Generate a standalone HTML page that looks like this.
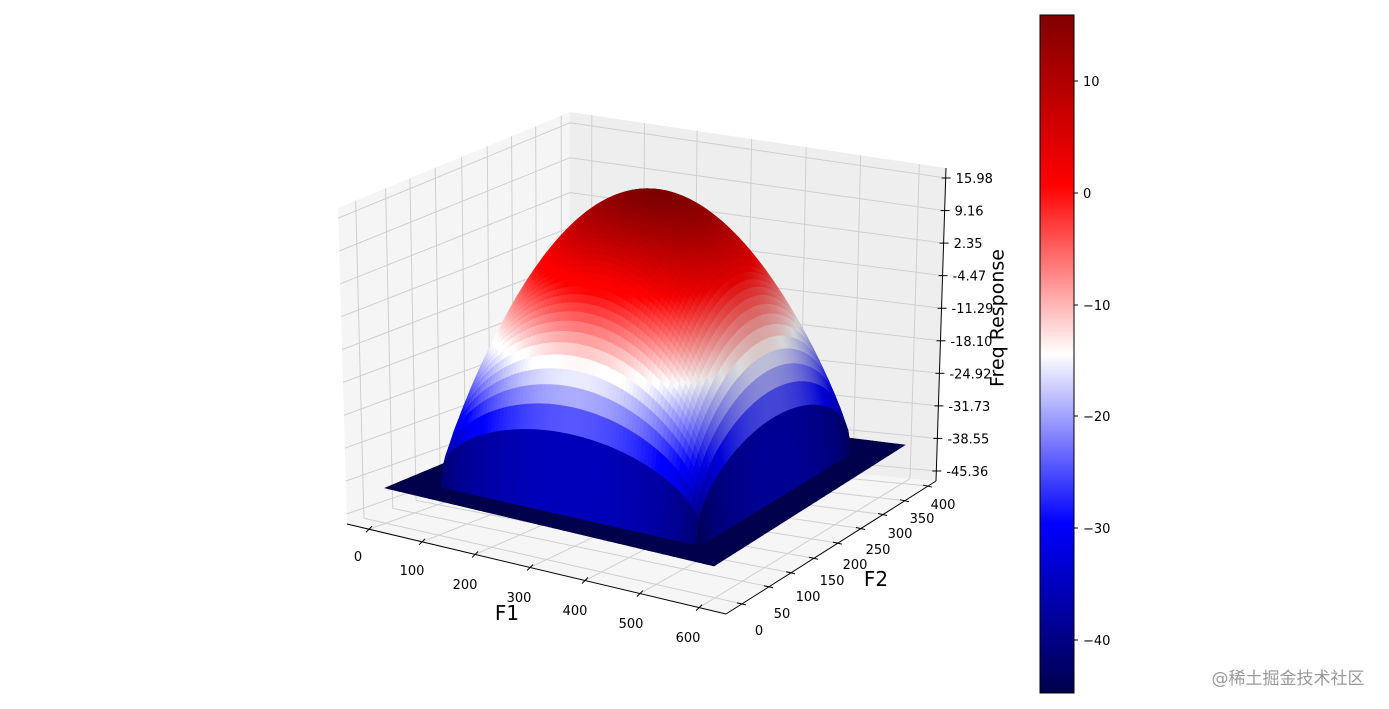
<!DOCTYPE html>
<html><head><meta charset="utf-8">
<style>
html,body{margin:0;padding:0;background:#fff;}
svg{display:block;font-family:"DejaVu Sans","Liberation Sans","Noto Sans CJK SC",sans-serif;}
</style></head>
<body>
<svg id="s" width="1389" height="709" viewBox="0 0 1389 709" xmlns="http://www.w3.org/2000/svg">
<defs>
<linearGradient id="cb" x1="0" y1="1" x2="0" y2="0">
<stop offset="0" stop-color="#00004d"/>
<stop offset="0.25" stop-color="#0000ff"/>
<stop offset="0.5" stop-color="#ffffff"/>
<stop offset="0.75" stop-color="#ff0000"/>
<stop offset="1" stop-color="#800000"/>
</linearGradient>
</defs>
<g id="panes"></g>
<g id="surf"></g>
<g id="axes"></g>
<rect x="1040" y="15" width="34" height="678" fill="url(#cb)" stroke="#000" stroke-width="1"/>
<g font-size="13" fill="#000">
<line x1="1074" y1="81" x2="1078" y2="81" stroke="#000"/><text x="1083" y="86">10</text>
<line x1="1074" y1="193" x2="1078" y2="193" stroke="#000"/><text x="1083" y="198">0</text>
<line x1="1074" y1="305" x2="1078" y2="305" stroke="#000"/><text x="1083" y="310">−10</text>
<line x1="1074" y1="416" x2="1078" y2="416" stroke="#000"/><text x="1083" y="421">−20</text>
<line x1="1074" y1="528" x2="1078" y2="528" stroke="#000"/><text x="1083" y="533">−30</text>
<line x1="1074" y1="640" x2="1078" y2="640" stroke="#000"/><text x="1083" y="645">−40</text>
</g>
<text x="998" y="318" font-size="19" text-anchor="middle" transform="rotate(-90 998 318)" dominant-baseline="middle">Freq Response</text>
<text x="507" y="620" font-size="20" text-anchor="middle">F1</text>
<text x="876" y="586" font-size="20" text-anchor="middle">F2</text>
<text x="1288" y="684" font-size="17" fill="#999" text-anchor="middle">@稀土掘金技术社区</text>
</svg>
<script>
var NS="http://www.w3.org/2000/svg";
function el(p,tag,a){var e=document.createElementNS(NS,tag);for(var k in a)e.setAttribute(k,a[k]);p.appendChild(e);return e;}
var L=[347,524],F=[726,614],R=[936,481],B=[570,448];
var Lt=[338,208],Bt=[570,112],Rt=[946,168];
function fl(s,t){return [L[0]+s*(F[0]-L[0])+t*(B[0]-L[0])+s*t*(R[0]-B[0]-F[0]+L[0]),
 L[1]+s*(F[1]-L[1])+t*(B[1]-L[1])+s*t*(R[1]-B[1]-F[1]+L[1])];}
function lerp(a,b,f){return [a[0]+(b[0]-a[0])*f,a[1]+(b[1]-a[1])*f];}
var panes=document.getElementById('panes'),axes=document.getElementById('axes');
function poly(p,pts,fill){el(p,'polygon',{points:pts.map(function(q){return q.join(',')}).join(' '),fill:fill});}
poly(panes,[L,B,Bt,Lt],'#f5f5f5');
poly(panes,[B,R,Rt,Bt],'#eeeeee');
poly(panes,[L,F,R,B],'#f6f6f6');
var sF=[0.058,0.198,0.338,0.483,0.628,0.773,0.929];
var tF=[0.076,0.205,0.31,0.419,0.533,0.643,0.748,0.852,0.962];
var zF=[];for(var i=0;i<10;i++)zF.push(0.032+i*(0.936/9));
var gs={stroke:'#cfcfcf','stroke-width':1,fill:'none'};
function line(p,a,b,st){var o={x1:a[0],y1:a[1],x2:b[0],y2:b[1]};for(var k in st)o[k]=st[k];el(p,'line',o);}
sF.forEach(function(s){line(panes,fl(s,0),fl(s,1),gs);});
tF.forEach(function(t){line(panes,fl(0,t),fl(1,t),gs);});
tF.forEach(function(t){line(panes,lerp(L,B,t),lerp(Lt,Bt,t),gs);});
zF.forEach(function(z){line(panes,lerp(L,Lt,z),lerp(B,Bt,z),gs);});
sF.forEach(function(s){line(panes,lerp(B,R,s),lerp(Bt,Rt,s),gs);});
zF.forEach(function(z){line(panes,lerp(B,Bt,z),lerp(R,Rt,z),gs);});
var SL=[385,488],SF=[714,566],SR=[905,445],SB=[584,405];
function sfl(s,t){return [SL[0]+s*(SF[0]-SL[0])+t*(SB[0]-SL[0])+s*t*(SR[0]-SB[0]-SF[0]+SL[0]),
 SL[1]+s*(SF[1]-SL[1])+t*(SB[1]-SL[1])+s*t*(SR[1]-SB[1]-SF[1]+SL[1])];}
var zmin=-45.36,zmax=15.98,K=4.62,W=0.8;
function c1(x){var a=Math.abs(x);if(a>=W)return 0;return Math.cos(Math.PI*a/(2*W));}
function zf(s,t){var x=2*s-1,y=2*t-1;var v=c1(x)*c1(y);return zmin+(zmax-zmin)*Math.pow(v,0.4);}
function P(s,t,z){var p=sfl(s,t);return [p[0],p[1]-(z-zmin)*K];}
function cmap(z){var f=(z-zmin)/(zmax-zmin);var st=[[0,0,0,77],[0.25,0,0,255],[0.5,255,255,255],[0.75,255,0,0],[1,128,0,0]];
 for(var i=0;i<4;i++){if(f<=st[i+1][0]){var g=(f-st[i][0])/(st[i+1][0]-st[i][0]);
 return [st[i][1]+g*(st[i+1][1]-st[i][1]),st[i][2]+g*(st[i+1][2]-st[i][2]),st[i][3]+g*(st[i+1][3]-st[i][3])];}}return [128,0,0];}
var N=90,cells=[];
var lx=-0.667,ly=-0.667,lz=0.333;
for(var i=0;i<N;i++)for(var j=0;j<N;j++){
 var s0=i/N,s1=(i+1)/N,t0=j/N,t1=(j+1)/N;
 var z00=zf(s0,t0),z10=zf(s1,t0),z11=zf(s1,t1),z01=zf(s0,t1);
 var h=function(z){return (z-zmin)/(zmax-zmin)*0.75;};
 var dx=(h(z10)+h(z11)-h(z00)-h(z01))/2*N, dy=(h(z01)+h(z11)-h(z00)-h(z10))/2*N;
 var nl=Math.sqrt(dx*dx+dy*dy+1);
 var d=(-dx*lx-dy*ly+lz)/nl;
 cells.push({s0:s0,s1:s1,t0:t0,t1:t1,z:[z00,z10,z11,z01],d:d,k:(i+0.5)/N+(1-(j+0.5)/N)});
}
var dmin=1e9,dmax=-1e9;cells.forEach(function(c){if(c.d<dmin)dmin=c.d;if(c.d>dmax)dmax=c.d;});
cells.sort(function(a,b){return a.k-b.k;});
var html='';
cells.forEach(function(c){
 var za=(c.z[0]+c.z[1]+c.z[2]+c.z[3])/4;
 var col=cmap(za);
 var sh=(c.d-dmin)/(dmax-dmin);
 var f=0.8+0.3*sh; if(f>1.05)f=1.05;
 var r=Math.round(Math.min(255,col[0]*f)),g=Math.round(Math.min(255,col[1]*f)),b=Math.round(Math.min(255,col[2]*f));
 var pts=[P(c.s0,c.t0,c.z[0]),P(c.s1,c.t0,c.z[1]),P(c.s1,c.t1,c.z[2]),P(c.s0,c.t1,c.z[3])].map(function(q){return q[0].toFixed(1)+','+q[1].toFixed(1)}).join(' ');
 var cs='rgb('+r+','+g+','+b+')';
 html+='<polygon points="'+pts+'" fill="'+cs+'" stroke="'+cs+'" stroke-width="0.6"/>';
});
document.getElementById('surf').innerHTML=html;
var ax={stroke:'#000','stroke-width':1};
line(axes,L,F,ax);line(axes,F,R,ax);line(axes,R,Rt,ax);
sF.forEach(function(s){var p=lerp(L,F,s);line(axes,[p[0]-3,p[1]+3],[p[0]+3,p[1]-3],ax);});
tF.forEach(function(t){var p=lerp(F,R,t);line(axes,[p[0]-5,p[1]-1],[p[0]+4,p[1]+1],ax);});
zF.forEach(function(z){var p=lerp(R,Rt,z);line(axes,[p[0]-4,p[1]],[p[0]+5,p[1]],ax);});
var f1=[['0',358,561],['100',412,575],['200',465,589],['300',519,602],['400',575,615],['500',631,628],['600',688,642]];
f1.forEach(function(a){var t=el(axes,'text',{x:a[1],y:a[2],'font-size':13,'text-anchor':'middle'});t.textContent=a[0];});
var f2=[['0',759,635],['50',782,618],['100',808,601],['150',832,585],['200',855,569],['250',878,554],['300',900,538],['350',922,523],['400',943,509]];
f2.forEach(function(a){var t=el(axes,'text',{x:a[1],y:a[2],'font-size':13,'text-anchor':'middle'});t.textContent=a[0];});
var zl=['-45.36','-38.55','-31.73','-24.92','-18.10','-11.29','-4.47','2.35','9.16','15.98'];
zl.forEach(function(s,i){var p=lerp(R,Rt,zF[i]);var t=el(axes,'text',{x:p[0]+10,y:p[1]+5,'font-size':13});t.textContent=s;});
</script>
</body></html>
